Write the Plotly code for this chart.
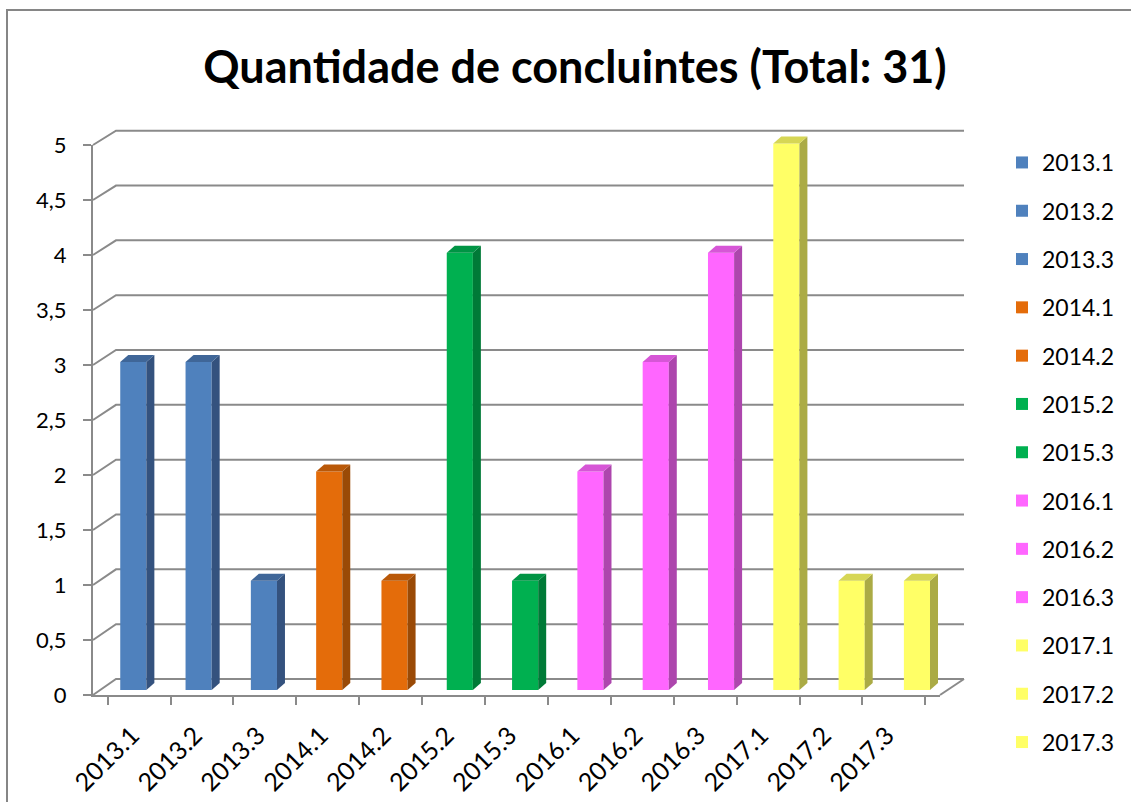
import plotly.graph_objects as go

# ---------------- data ----------------
categories = ["2013.1", "2013.2", "2013.3", "2014.1", "2014.2", "2015.2", "2015.3",
              "2016.1", "2016.2", "2016.3", "2017.1", "2017.2", "2017.3"]
values = [3, 3, 1, 2, 1, 4, 1, 2, 3, 4, 5, 1, 1]
y_ticks = [0, 0.5, 1, 1.5, 2, 2.5, 3, 3.5, 4, 4.5, 5]
title_text = "Quantidade de concluintes (Total: 31)"

# colours per year: (front, side, top)
year_colors = {
    "2013": ("#4F81BD", "#34527E", "#3F6698"),
    "2014": ("#E46C0A", "#9A4A06", "#B95808"),
    "2015": ("#00B050", "#007A37", "#009444"),
    "2016": ("#FF66FF", "#AD46AD", "#D656D6"),
    "2017": ("#FFFF66", "#ABAB45", "#D6D655"),
}

# ---------------- geometry (pixels) ----------------
W, H = 1131, 802
def px(x):
    return x / W
def py(y):
    return 1 - y / H

FX0, FX1, FY0, FY5 = 93, 940, 695, 145        # front axes plane
BX0, BX1, BY0, BY5 = 116, 964, 679, 130.7     # back wall plane
GX0, GX1, GY0 = 100.65, 949.6, 690            # bar plane
G_UNIT = 109.3                                 # px per unit on bar plane
G_TOP = 5.5                                    # bar plane range top
DX = 8 / ((GX1 - GX0) / 13)
DY = 7 / G_UNIT
BAR_W = 0.4

GRID = "#8A8A8A"
FONT = "Lato"

fig = go.Figure()

# invisible trace to establish the categorical front axis
fig.add_trace(go.Scatter(x=categories, y=values, mode="markers",
                         marker=dict(opacity=0), showlegend=False,
                         hoverinfo="skip", xaxis="x", yaxis="y"))

shapes = []
for i, (cat, v) in enumerate(zip(categories, values)):
    front, side, top = year_colors[cat.split(".")[0]]
    fig.add_trace(go.Bar(x=[i], y=[v], width=BAR_W, name=cat,
                         marker=dict(color=front, line=dict(width=0)),
                         legendgroup=cat, xaxis="x2", yaxis="y2"))
    xl, xr = i - BAR_W / 2, i + BAR_W / 2
    shapes.append(dict(type="path", xref="x2", yref="y2", layer="above",
                       path=f"M{xr},0 L{xr},{v} L{xr+DX},{v+DY} L{xr+DX},{DY} Z",
                       fillcolor=side, line=dict(width=0)))
    shapes.append(dict(type="path", xref="x2", yref="y2", layer="above",
                       path=f"M{xl},{v} L{xr},{v} L{xr+DX},{v+DY} L{xl+DX},{v+DY} Z",
                       fillcolor=top, line=dict(width=0)))

def fy(v):
    return FY0 + (FY5 - FY0) * v / 5
def by(v):
    return BY0 + (BY5 - BY0) * v / 5

for v in y_ticks:
    path = (f"M{px(FX0)},{py(fy(v))} L{px(BX0)},{py(by(v))} "
            f"L{px(BX1)},{py(by(v))}")
    shapes.append(dict(type="path", xref="paper", yref="paper", layer="below",
                       path=path, line=dict(color=GRID, width=2)))
shapes.append(dict(type="path", xref="paper", yref="paper", layer="below",
                   path=f"M{px(FX1)},{py(FY0)} L{px(BX1)},{py(BY0)}",
                   line=dict(color=GRID, width=2)))
# chart border (top and left)
shapes.append(dict(type="path", xref="paper", yref="paper", layer="above",
                   path=f"M{px(7)},0 L{px(7)},{py(10)} L1,{py(10)}",
                   line=dict(color="#868686", width=2)))

fig.update_layout(
    width=W, height=H,
    margin=dict(l=0, r=0, t=0, b=0, pad=0, autoexpand=False),
    paper_bgcolor="white", plot_bgcolor="rgba(0,0,0,0)",
    separators=", ",
    barmode="overlay",
    font=dict(family=FONT, color="black"),
    title=dict(text=title_text, x=575 / W, y=py(67), xanchor="center",
               yanchor="middle", xref="paper", yref="paper",
               font=dict(family=FONT, size=45, weight="bold", color="black")),
    xaxis=dict(domain=[px(FX0), px(FX1)], type="category",
               tickson="boundaries", ticks="outside", ticklen=8,
               tickcolor=GRID, tickwidth=2, showline=True, linecolor=GRID,
               linewidth=2, showgrid=False, zeroline=False, tickangle=-45,
               tickfont=dict(family=FONT, size=25), ticklabelstandoff=14,
               ticklabelshift=-7, anchor="y", automargin=False),
    yaxis=dict(domain=[py(FY0), py(FY5)], range=[0, 5], tickvals=y_ticks,
               ticks="outside", ticklen=8, tickcolor=GRID, tickwidth=2,
               showline=True, linecolor=GRID, linewidth=2, showgrid=False,
               zeroline=False, tickfont=dict(family=FONT, size=22),
               ticklabelstandoff=12, anchor="x", automargin=False),
    xaxis2=dict(domain=[px(GX0), px(GX1)], range=[-0.5, 12.5],
                visible=False, anchor="y2"),
    yaxis2=dict(domain=[py(GY0), py(GY0 - G_TOP * G_UNIT)], range=[0, G_TOP],
                visible=False, anchor="x2"),
    legend=dict(x=1002 / W, y=py(141), xanchor="left", yanchor="top",
                traceorder="grouped", tracegroupgap=15.4,
                font=dict(family=FONT, size=23), bgcolor="rgba(0,0,0,0)"),
    shapes=shapes,
    showlegend=True,
)

fig.write_html("out.html", config={"displayModeBar": False},
               post_script="document.body.style.margin='0';document.body.style.overflow='hidden';")
